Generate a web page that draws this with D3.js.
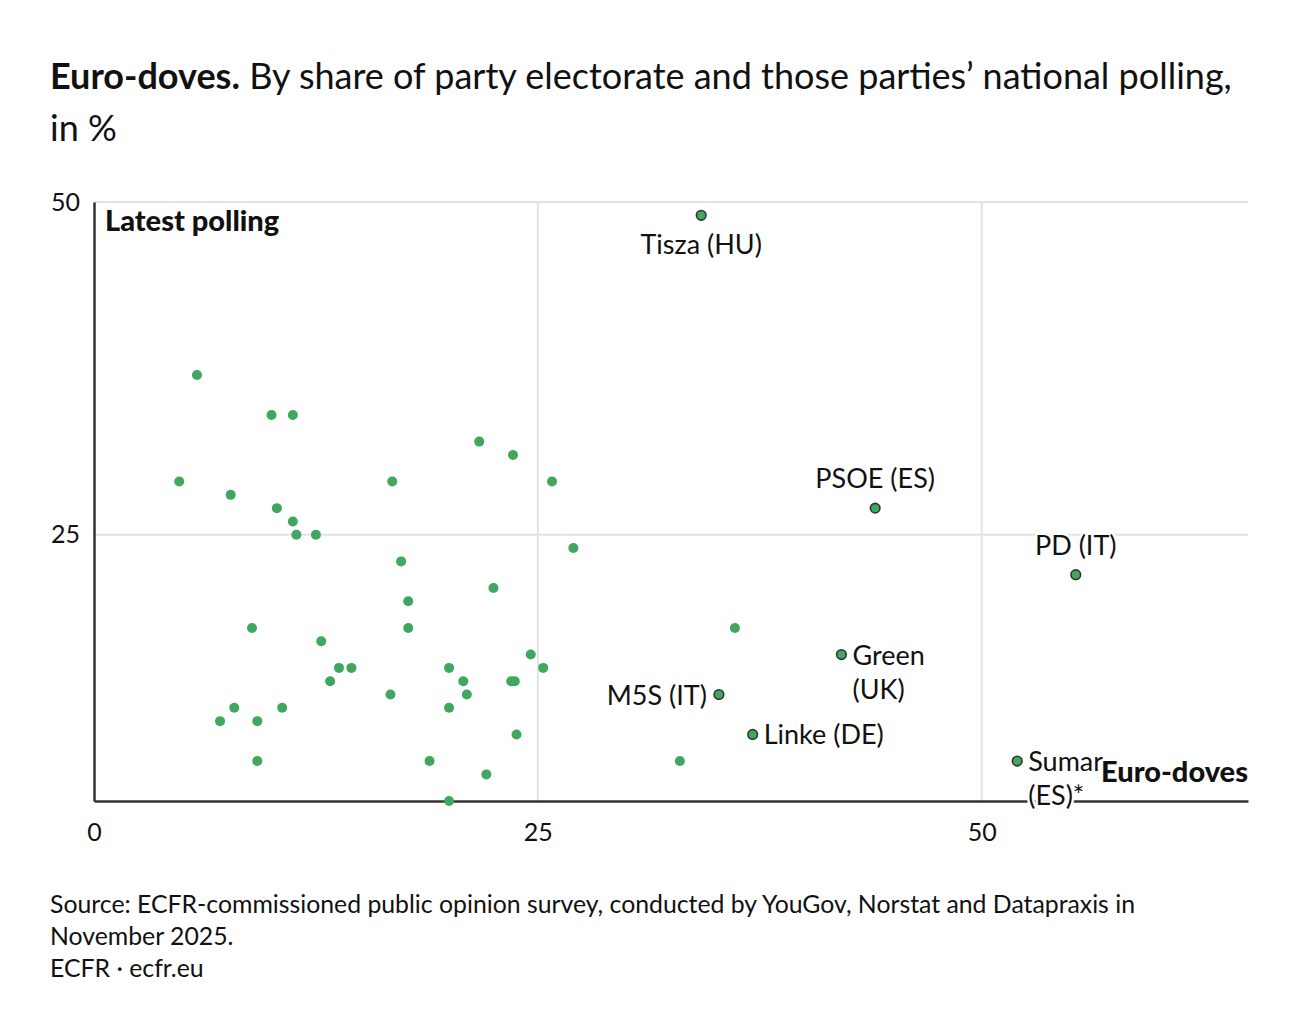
<!DOCTYPE html>
<html>
<head>
<meta charset="utf-8">
<script src="https://d3js.org/d3.v7.min.js"></script>
<style>
  body { margin: 0; background: #fff; }
  svg text { font-family: Lato, "Noto Sans", sans-serif; fill: #111; }
</style>
</head>
<body>
<div id="chart"></div>
<script>
// Unlabelled parties: share of electorate that are euro-doves (x) and national polling (y)
const doveShare = [5.8, 10.0, 11.2, 21.7, 23.6, 4.8, 16.8, 25.8, 7.7, 10.3, 11.2, 11.4, 12.5, 27.0,
  17.3, 22.5, 17.7, 8.9, 17.7, 36.1, 12.8, 24.6, 13.8, 14.5, 20.0, 25.3, 13.3, 20.8, 23.5, 23.7,
  16.7, 21.0, 7.9, 10.6, 20.0, 7.1, 9.2, 23.8, 9.2, 18.9, 33.0, 22.1, 20.0];
const polling = [37, 34, 34, 32, 31, 29, 29, 29, 28, 27, 26, 25, 25, 24,
  23, 21, 20, 18, 18, 18, 17, 16, 15, 15, 15, 15, 14, 14, 14, 14,
  13, 13, 12, 12, 12, 11, 11, 10, 8, 8, 8, 7, 5];

// Labelled parties
const namedParties = ["Tisza (HU)", "PSOE (ES)", "PD (IT)", "Green\n(UK)", "M5S (IT)", "Linke (DE)", "Sumar\n(ES)*"];
const namedShare = [34.2, 44.0, 55.3, 42.1, 35.2, 37.1, 52.0];
const namedPolling = [49, 27, 22, 16, 13, 10, 8];
const labelPlacement = ["below", "above", "above", "right", "left", "right", "right"];

const xTicks = [0, 25, 50];
const yTicks = [25, 50];

const width = 1300, height = 1036;
const margin = { top: 202, right: 52, bottom: 235, left: 94 };

const svg = d3.select("#chart").append("svg")
  .attr("width", width)
  .attr("height", height);

// Title
const title = svg.append("text")
  .attr("x", 50)
  .attr("y", 89)
  .style("font-size", "36px");
title.append("tspan").style("font-weight", "bold").text("Euro-doves.");
title.append("tspan").text(" By share of party electorate and those parties\u2019 national polling,");
svg.append("text")
  .attr("x", 50)
  .attr("y", 141)
  .style("font-size", "36px")
  .text("in %");

const x = d3.scaleLinear()
  .domain([0, 65])
  .range([margin.left, width - margin.right]);

const y = d3.scaleLinear()
  .domain([5, 50])
  .range([height - margin.bottom, margin.top]);

// Gridlines
svg.append("g")
  .selectAll("line")
  .data(xTicks.filter(d => d > 0))
  .join("line")
  .attr("x1", d => x(d)).attr("x2", d => x(d))
  .attr("y1", y(50)).attr("y2", y(5))
  .attr("stroke", "#e3e3e3")
  .attr("stroke-width", 2);

svg.append("g")
  .selectAll("line")
  .data(yTicks)
  .join("line")
  .attr("x1", x(0)).attr("x2", x(65))
  .attr("y1", d => y(d)).attr("y2", d => y(d))
  .attr("stroke", "#e3e3e3")
  .attr("stroke-width", 2);

// Axes
const xAxis = svg.append("g")
  .attr("transform", `translate(0,${y(5)})`)
  .call(d3.axisBottom(x).tickValues(xTicks).tickSize(0).tickPadding(22));
xAxis.select(".domain").attr("stroke", "#333").attr("stroke-width", 2.5);
xAxis.selectAll("text").style("font-size", "25px").attr("fill", "#111");

const yAxis = svg.append("g")
  .attr("transform", `translate(${x(0)},0)`)
  .call(d3.axisLeft(y).tickValues(yTicks).tickSize(0).tickPadding(14));
yAxis.select(".domain").attr("stroke", "#333").attr("stroke-width", 2.5);
yAxis.selectAll("text").style("font-size", "25px").attr("fill", "#111");

svg.append("text")
  .attr("x", 105)
  .attr("y", 231)
  .style("font-size", "29px")
  .style("font-weight", "900")
  .text("Latest polling");

const green = "#3fa85e";

// Unlabelled dots
svg.append("g")
  .selectAll("circle")
  .data(doveShare.map((d, i) => ({ x: d, y: polling[i] })))
  .join("circle")
  .attr("cx", d => x(d.x))
  .attr("cy", d => y(d.y))
  .attr("r", 5)
  .attr("fill", green);

// Labelled dots
const named = namedParties.map((n, i) => ({ name: n, x: namedShare[i], y: namedPolling[i], pos: labelPlacement[i] }));

svg.append("g")
  .selectAll("circle")
  .data(named)
  .join("circle")
  .attr("cx", d => x(d.x))
  .attr("cy", d => y(d.y))
  .attr("r", 4.8)
  .attr("fill", green)
  .attr("stroke", "#333")
  .attr("stroke-width", 1.6);

const labels = svg.append("g")
  .selectAll("text")
  .data(named)
  .join("text")
  .style("font-size", "27px")
  .attr("stroke", "#fff")
  .attr("stroke-width", 5)
  .attr("stroke-linejoin", "round")
  .attr("paint-order", "stroke")
  .attr("text-anchor", d => d.pos === "left" ? "end" : (d.pos === "right" ? "start" : "middle"))
  .attr("transform", d => {
    const cx = x(d.x), cy = y(d.y);
    if (d.pos === "below") return `translate(${cx},${cy + 39})`;
    if (d.pos === "above") return `translate(${cx},${cy - 20})`;
    if (d.pos === "left") return `translate(${cx - 12},${cy + 10})`;
    return `translate(${cx + 11},${cy + 10})`;
  });

labels.selectAll("tspan")
  .data(d => d.name.split("\n"))
  .join("tspan")
  .attr("x", 0)
  .attr("dy", (d, i) => i === 0 ? 0 : 34)
  .text(d => d);

// Quadrant label
svg.append("text")
  .attr("x", x(65))
  .attr("y", 782)
  .attr("text-anchor", "end")
  .style("font-size", "29px")
  .style("font-weight", "900")
  .attr("stroke", "#fff")
  .attr("stroke-width", 5)
  .attr("stroke-linejoin", "round")
  .attr("paint-order", "stroke")
  .text("Euro-doves");

// Source
const source = [
  "Source: ECFR-commissioned public opinion survey, conducted by YouGov, Norstat and Datapraxis in",
  "November 2025.",
  "ECFR \u00b7 ecfr.eu"
];
svg.append("g")
  .selectAll("text")
  .data(source)
  .join("text")
  .attr("x", 50)
  .attr("y", (d, i) => 913 + i * 32)
  .style("font-size", "24.8px")
  .text(d => d);
</script>
</body>
</html>
